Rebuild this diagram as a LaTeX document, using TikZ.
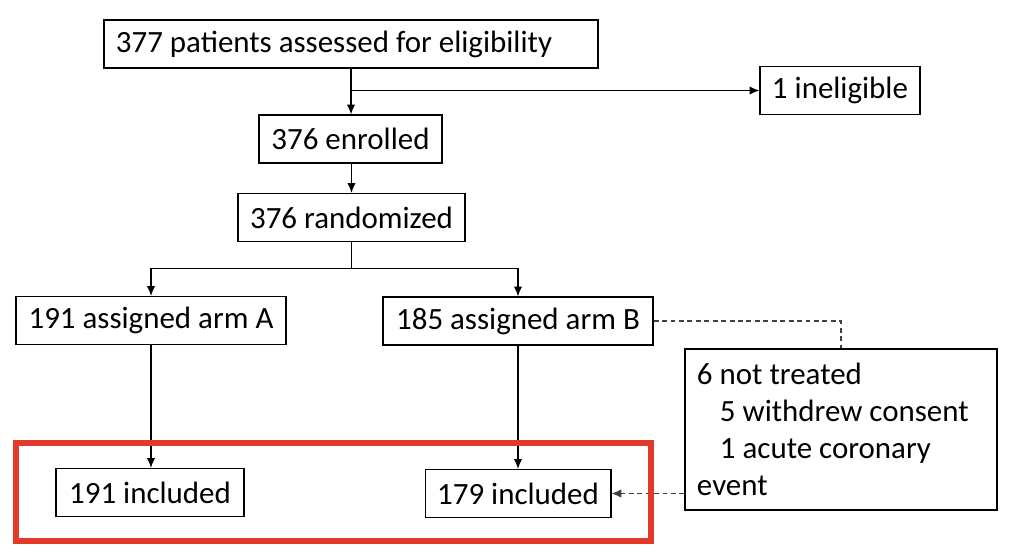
\documentclass[tikz,border=0pt]{standalone}
\usepackage{fontspec}
\setmainfont{Carlito}
\usetikzlibrary{arrows.meta, calc}
\definecolor{flagred}{RGB}{228,56,40}

\begin{document}
\begin{tikzpicture}[x=0.025cm, y=-0.025cm, >={Latex[length=7pt,width=6pt]},
    box/.style={draw, line width=0.9pt, inner xsep=0.3cm, inner ysep=0pt,
        minimum height=1.2cm, font=\fontsize{22}{26.3}\selectfont},
    link/.style={line width=0.9pt},
    dashlink/.style={line width=0.9pt, black!75, dash pattern=on 3.5pt off 2.5pt}]
    \useasboundingbox (0,0) rectangle (1011,552);
    % boxes
    \node[box, text width=11.75cm, align=flush left] (assessed) at (351,44) {377 patients assessed for eligibility};
    \node[box, minimum width=4cm] (inelig) at (840,90.5) {1 ineligible};
    \node[box, minimum width=4.575cm] (enrolled) at (350.5,139) {376 enrolled};
    \node[box, minimum width=5.675cm] (random) at (351.5,217.5) {376 randomized};
    \node[box, minimum width=6.75cm] (armA) at (151,320.5) {191 assigned arm A};
    \node[box, minimum width=6.75cm] (armB) at (518,321) {185 assigned arm B};
    \node[box, text width=7.2cm, align=flush left, minimum height=4.025cm] (untreated) at (841,429.5)
        {6 not treated\\\hspace*{0.575cm}5 withdrew consent\\\hspace*{0.575cm}1 acute coronary\\event};
    \node[box, minimum width=4.7cm] (inclA) at (150,492.5) {191 included};
    \node[box, minimum width=4.6cm] (inclB) at (518,493.5) {179 included};
    % connectors
    \draw[link, ->] (assessed.south) -- (assessed.south |- enrolled.north);
    \draw[link, ->] (assessed.south |- inelig.west) -- (inelig.west);
    \draw[link, ->] (random.north |- enrolled.south) -- (random.north);
    \coordinate (split) at ($(random.south)+(0,26)$);
    \draw[link] (random.south) -- (split);
    \draw[link, ->] (split) -| (armA.north);
    \draw[link, ->] (split) -| (armB.north);
    \draw[link, ->] (armA.south) -- (armA.south |- inclA.north);
    \draw[link, ->] (armB.south) -- (armB.south |- inclB.north);
    \draw[dashlink] (armB.east) -| (untreated.north);
    \draw[dashlink, ->] (untreated.west |- inclB.east) -- (inclB.east);
    % highlight
    \draw[flagred, line width=0.15cm] (16,443) rectangle (651,541);
\end{tikzpicture}
\end{document}
